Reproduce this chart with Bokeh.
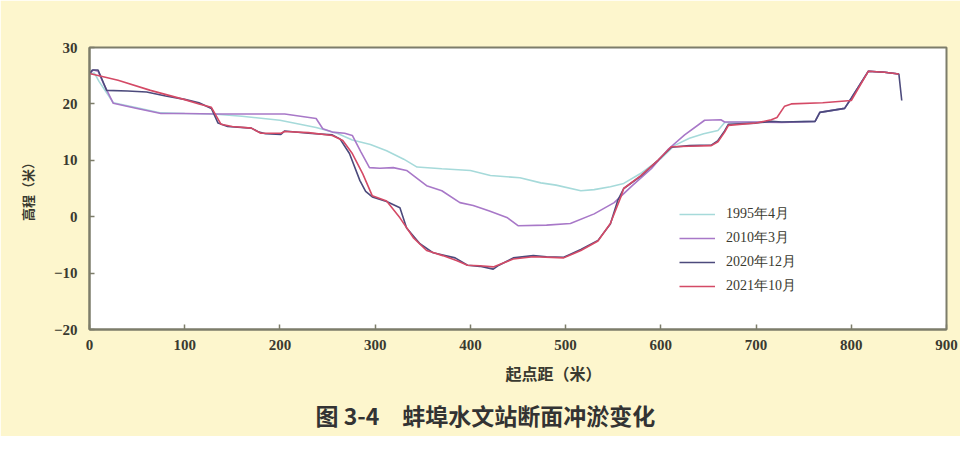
from bokeh.plotting import figure
from bokeh.models import Range1d, Legend, LegendItem, Title, FixedTicker
from bokeh.embed import file_html
from bokeh.resources import INLINE

# ---- data ----
x_1995 = [0, 5, 10, 25, 50, 75, 100, 130, 160, 200, 238, 260, 276, 295, 312, 330, 344, 370, 400, 421,
          452, 474, 490, 516, 530, 547, 561, 580, 600, 614, 630, 645, 660, 667, 700, 727, 762, 767, 793,
          800, 818, 835, 850]
y_1995 = [25.2, 25.5, 24.0, 20.2, 19.3, 18.4, 18.3, 18.2, 17.8, 17.1, 15.8, 14.8, 13.6, 12.8, 11.7, 10.2,
          8.8, 8.5, 8.2, 7.3, 6.9, 6.0, 5.6, 4.6, 4.8, 5.3, 5.9, 7.8, 10.3, 12.6, 13.9, 14.7, 15.3, 16.7,
          16.8, 16.8, 16.9, 18.5, 19.2, 21.0, 25.8, 25.6, 25.3]

x_2010 = [0, 4, 9, 15, 25, 50, 75, 100, 134, 170, 205, 238, 245, 255, 268, 276, 285, 294, 305, 319, 333,
          354, 370, 389, 403, 420, 439, 450, 480, 505, 530, 551, 570, 590, 608, 625, 646, 663, 667, 700,
          727, 762, 767, 793, 800, 818, 835, 850]
y_2010 = [25.3, 26.0, 25.8, 23.5, 20.1, 19.2, 18.3, 18.3, 18.2, 18.2, 18.2, 17.4, 15.6, 15.0, 14.8, 14.4,
          11.5, 8.7, 8.6, 8.7, 8.2, 5.5, 4.6, 2.5, 2.0, 1.0, -0.2, -1.6, -1.5, -1.2, 0.5, 2.5, 5.5, 8.5,
          12.0, 14.5, 17.1, 17.2, 16.8, 16.8, 16.7, 16.9, 18.5, 19.2, 21.0, 25.8, 25.6, 25.3]

x_2020 = [0, 3, 9, 18, 40, 60, 80, 100, 115, 128, 135, 145, 170, 178, 185, 201, 205, 230, 255, 263, 273,
          284, 290, 297, 312, 326, 333, 347, 361, 384, 397, 410, 424, 430, 445, 466, 480, 498, 516, 534,
          547, 555, 561, 579, 597, 611, 630, 653, 660, 667, 671, 700, 716, 727, 762, 767, 793, 800, 818,
          835, 850, 853]
y_2020 = [25.3, 26.0, 26.0, 22.4, 22.3, 22.1, 21.4, 20.8, 20.2, 19.2, 16.6, 16.0, 15.7, 15.0, 14.7, 14.6,
          15.2, 14.8, 14.5, 13.8, 11.2, 6.4, 4.5, 3.5, 2.7, 1.6, -2.0, -4.8, -6.4, -7.3, -8.6, -8.8, -9.3,
          -8.6, -7.3, -6.9, -7.1, -7.2, -5.8, -4.2, -1.3, 3.0, 5.0, 7.2, 10.0, 12.3, 12.6, 12.7, 13.5,
          15.2, 16.4, 16.6, 16.9, 16.8, 16.9, 18.5, 19.2, 21.0, 25.8, 25.6, 25.3, 20.6]

x_2021 = [0, 30, 64, 99, 115, 128, 138, 150, 170, 180, 201, 205, 230, 255, 266, 276, 287, 297, 312, 326,
          340, 354, 371, 386, 397, 410, 424, 445, 466, 498, 516, 534, 547, 558, 561, 579, 597, 611, 630,
          653, 660, 667, 671, 700, 716, 722, 730, 737, 770, 800, 818, 835, 850]
y_2021 = [25.4, 24.2, 22.4, 20.8, 20.0, 19.4, 16.4, 16.0, 15.7, 14.8, 14.8, 15.1, 14.9, 14.4, 13.5, 11.2,
          7.6, 3.7, 2.8, -0.2, -3.7, -6.0, -6.9, -7.8, -8.6, -8.7, -8.9, -7.5, -7.1, -7.3, -6.0, -4.3,
          -1.2, 3.5, 5.0, 7.3, 10.0, 12.4, 12.5, 12.6, 13.3, 15.0, 16.2, 16.6, 17.2, 17.6, 19.6, 20.0,
          20.2, 20.6, 25.8, 25.6, 25.3]

series_names = ["1995年4月", "2010年3月", "2020年12月", "2021年10月"]
x_ticks = [0, 100, 200, 300, 400, 500, 600, 700, 800, 900]
y_ticks = [-20, -10, 0, 10, 20, 30]

x_title = "起点距（米）"
y_title = "高程（米）"
fig_title = "图 3-4　蚌埠水文站断面冲淤变化"

# ---- styling ----
BG = "#FDF6CD"
AXIS_COL = "#7d7d6a"
colors = ["#a6dada", "#a878c8", "#4c4a7c", "#d44a66"]
SERIF = "Liberation Serif"
CJK = "Noto Sans CJK SC"

p = figure(width=960, height=436, output_backend="svg", toolbar_location=None,
           x_range=Range1d(0, 900), y_range=Range1d(-20, 30),
           min_border_left=89, min_border_right=14, min_border_top=47, min_border_bottom=107)
p.border_fill_color = BG
p.background_fill_color = "white"
p.outline_line_color = AXIS_COL
p.outline_line_width = 2
p.grid.visible = False

for ax in (p.xaxis[0], p.yaxis[0]):
    ax.axis_line_color = AXIS_COL
    ax.axis_line_width = 2
    ax.major_tick_in = 5
    ax.major_tick_out = 0
    ax.major_tick_line_color = AXIS_COL
    ax.major_tick_line_width = 1.5
    ax.minor_tick_line_color = None
    ax.major_label_text_font = SERIF
    ax.major_label_text_font_size = "15px"
    ax.major_label_text_font_style = "bold"
    ax.major_label_text_color = "#3a3a30"

p.xaxis.ticker = FixedTicker(ticks=x_ticks)
p.yaxis.ticker = FixedTicker(ticks=y_ticks)
p.xaxis.major_label_standoff = 10
p.yaxis.major_label_standoff = 12

p.yaxis.axis_label = y_title
p.yaxis.axis_label_text_font = CJK
p.yaxis.axis_label_text_font_size = "13px"
p.yaxis.axis_label_text_font_style = "bold"
p.yaxis.axis_label_text_color = "#3a3a30"
p.yaxis.axis_label_standoff = 14

xs_all = [x_1995, x_2010, x_2020, x_2021]
ys_all = [y_1995, y_2010, y_2020, y_2021]
renderers = []
for xs, ys, c in zip(xs_all, ys_all, colors):
    r = p.line(xs, ys, line_color=c, line_width=1.6)
    renderers.append(r)

legend = Legend(items=[LegendItem(label=n, renderers=[r]) for n, r in zip(series_names, renderers)],
                location=(590, 33), orientation="vertical")
legend.background_fill_alpha = 0
legend.border_line_color = None
legend.label_text_font = SERIF
legend.label_text_font_size = "14px"
legend.label_text_color = "#3a3a30"
legend.glyph_width = 36
legend.glyph_height = 20
legend.label_height = 20
legend.label_standoff = 11
legend.spacing = 4
legend.padding = 4
legend.margin = 0
p.add_layout(legend, "center")

xlab = Title(text=x_title, align="left", offset=416, standoff=12,
             text_font=CJK, text_font_size="16px", text_font_style="bold", text_color="#3a3a30")
p.add_layout(xlab, "below")
ttl = Title(text=fig_title, align="left", offset=226, standoff=10,
            text_font=CJK, text_font_size="23px", text_font_style="bold", text_color="#333333")
p.add_layout(ttl, "below")

open("out.html", "w").write(file_html(p, INLINE))
